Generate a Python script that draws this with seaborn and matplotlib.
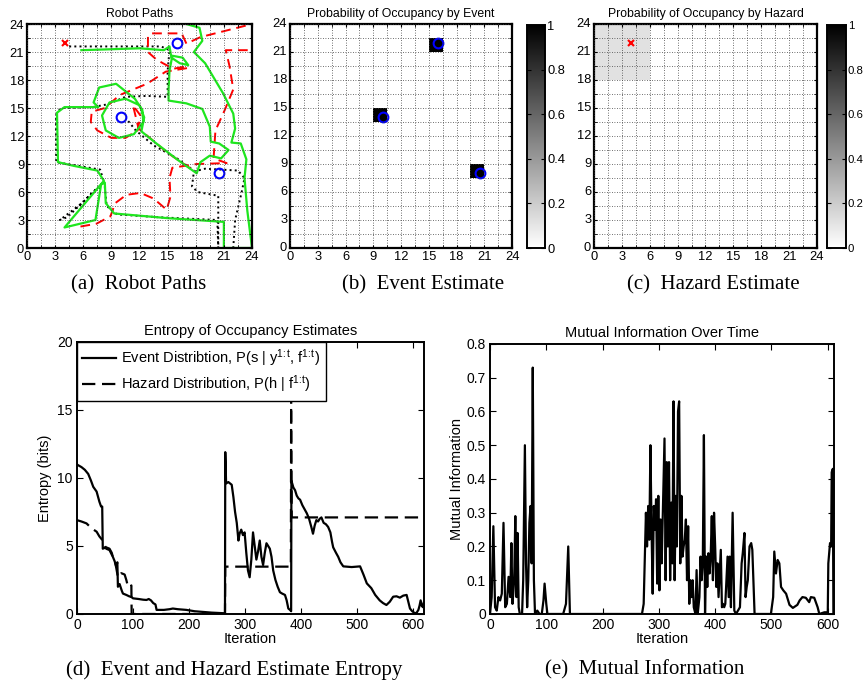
#Import Libraries
import numpy as np
import pandas as pd
import seaborn as sb
import matplotlib
matplotlib.use("Agg")
import matplotlib.pyplot as plt

#Fonts and tick style (MATLAB look)
plt.rcParams["font.family"] = ["Liberation Sans", "DejaVu Sans"]
plt.rcParams["mathtext.default"] = "regular"
plt.rcParams["xtick.direction"] = "in"
plt.rcParams["ytick.direction"] = "in"
plt.rcParams["xtick.top"] = True
plt.rcParams["ytick.right"] = True

#Targets (events) and hazard
event_x = [16, 10, 20.5]
event_y = [22, 14, 8]
hazard_x = [4]
hazard_y = [22]

#Occupancy grids (16 x 16 cells of 1.5 units)
event_cols = [10, 6, 13]
event_rows = [14, 9, 5]
event_prob = [1.0, 1.0, 1.0]
hazard_cols = [0, 1, 2, 3]
hazard_rows = [12, 13, 14, 15]
hazard_prob = 0.12

#Robot paths
black_x = [4.5, 9, 14.3, 15.2, 15.0, 15.0, 12.8, 10.5, 8.6, 7.0, 3.6, 3.1, 3.1, 5.5, 7.8, 8.2,
           5.6, 3.5, 4.3, 7.5, 8.3, 8.5, 9.6, 14.0, 20.3, 20.4, 20.4, 18.2, 17.6, 17.8, 19.0,
           22.5, 23.2, 22.9, 22.2, 22.0]
black_y = [21.6, 21.6, 21.6, 21.2, 19.0, 16.2, 16.3, 16.2, 15.4, 15.1, 15.0, 14.3, 9.2, 8.8, 8.4, 7.1,
           4.6, 3.0, 3.3, 6.4, 6.5, 4.5, 3.6, 3.3, 3.0, 0.0, 5.6, 6.0, 6.6, 8.2, 8.5,
           8.3, 7.5, 6.0, 3.0, 0.0]
black_diag_x = [10.8, 11.6, 13.5, 16.0, 17.8]
black_diag_y = [13.6, 12.6, 11.0, 9.6, 8.3]

red_x = [5.7, 7.4, 8.9, 9.4, 10.6, 12.1, 13.5, 14.9, 15.3, 15.2, 15.5, 18.1, 21.3, 19.9, 20.1,
         21.1, 22.0, 21.6, 21.2, 24.0, 24.0, 18.5, 17.0, 16.5, 13.3, 12.9, 12.9, 13.8, 14.5,
         15.6, 16.6, 17.2, 14.8, 12.8, 9.9, 8.3, 6.9, 6.8, 7.5, 9.0, 10.5, 11.8, 12.1, 11.3,
         11.9, 15.0, 17.9]
red_y = [2.3, 2.6, 3.4, 4.8, 5.7, 5.9, 5.3, 4.1, 5.5, 7.5, 8.6, 9.0, 9.1, 9.6, 12.6,
         14.8, 17.0, 19.5, 21.2, 21.2, 24.0, 22.6, 21.9, 23.0, 23.0, 22.7, 21.0, 20.2, 19.8,
         19.2, 19.4, 19.3, 18.9, 17.6, 16.4, 15.0, 14.6, 13.5, 12.6, 11.8, 11.8, 12.6, 14.2, 15.3,
         12.8, 10.2, 8.2]

green_x = [5.8, 9, 12, 14.6, 15.2, 15.4, 16.3, 17.2, 16.6, 15.5, 15.2, 15.1, 15.1, 17.0, 18.7,
           19.5, 19.6, 20.5, 21.5, 20.7, 19.5, 18.5, 18.1, 16.0, 13.8, 12.2, 12.5, 12.0, 10.5,
           8.8, 8.0, 8.4, 9.8, 11.4, 12.4, 12.3, 11.5, 9.5, 7.7, 7.1, 7.6, 4.0, 3.2, 3.3, 5.0,
           7.5, 8.2, 4.0, 7.3, 7.9, 8.3, 8.4, 9.3, 15.0, 21.0, 21.0, 24.0, 23.5, 23.2, 23.4,
           22.8, 21.8, 22.2, 22.0, 20.9, 19.0, 17.8, 18.7, 18.4, 17.0]
green_y = [21.2, 21.3, 21.4, 21.2, 21.6, 20.4, 19.8, 19.6, 20.4, 20.6, 19.0, 17.0, 15.8, 15.5, 14.9,
           13.0, 11.4, 11.2, 10.5, 9.6, 9.9, 9.2, 8.0, 9.5, 11.2, 12.5, 14.0, 15.3, 16.0,
           15.6, 14.2, 12.6, 11.8, 12.2, 13.5, 14.8, 16.0, 17.6, 17.2, 15.6, 15.1, 15.1, 14.5, 9.2, 8.8,
           8.3, 7.2, 2.2, 3.0, 6.8, 7.0, 4.8, 3.7, 3.2, 2.8, 0.0, 0.0, 4.0, 7.5, 9.5,
           11.2, 11.3, 12.8, 14.4, 16.6, 19.8, 21.0, 22.2, 23.6, 24.0]

#Entropy of occupancy estimates
event_iter = [0, 2, 8, 14, 20, 25, 29, 35, 40, 43, 45, 46, 52, 58, 62, 64, 67, 70, 72, 73,
              76, 80, 82, 88, 93, 97, 100, 110, 118, 124, 128, 132, 136, 140, 142, 155, 165, 171, 180, 195,
              210, 219, 240, 261, 264, 264.5, 266, 270, 276, 279, 282, 285, 288, 290, 293, 296, 299, 302, 305, 308,
              311, 314, 317, 320, 323, 326, 329, 332, 335, 338, 341, 344, 347, 350, 354, 358, 362, 366, 371, 374,
              377, 380, 382, 382.5, 386, 389, 392, 395, 398, 402, 406, 410, 414, 418, 421, 424, 427, 430, 433, 436,
              440, 444, 448, 452, 455, 457, 462, 466, 470, 475, 490, 505, 511, 517, 525, 532, 540, 546, 552, 558,
              564, 570, 576, 582, 588, 591, 594, 598, 603, 606, 609, 611, 613, 615, 617, 619]
event_entropy = [11.0, 10.94, 10.8, 10.6, 10.3, 9.8, 9.35, 9.0, 8.25, 7.9, 7.9, 4.8, 4.9, 4.8, 4.5, 4.2, 3.9, 3.5, 3.8, 2.0,
                 2.2, 1.7, 1.5, 1.4, 1.3, 1.25, 1.15, 1.1, 1.05, 1.03, 1.1, 1.0, 0.8, 0.7, 0.3, 0.3, 0.35, 0.4, 0.35, 0.3,
                 0.2, 0.17, 0.1, 0.05, 0.05, 11.9, 9.6, 9.7, 9.5, 8.6, 7.5, 6.7, 5.4, 5.9, 6.2, 5.8, 6.0, 4.5, 3.2, 2.7,
                 4.0, 6.0, 5.0, 4.0, 4.6, 5.4, 4.2, 3.6, 4.5, 5.2, 5.0, 4.8, 4.2, 3.2, 2.5, 2.0, 1.6, 1.5, 1.4, 1.0,
                 0.4, 0.3, 0.2, 9.8, 9.3, 9.1, 8.7, 8.5, 8.4, 8.0, 7.7, 7.4, 7.0, 6.4, 5.9, 6.5, 6.9, 6.8, 7.0, 7.1,
                 6.7, 6.6, 6.4, 6.0, 5.3, 4.9, 4.5, 4.2, 3.8, 3.5, 3.45, 3.5, 2.9, 2.25, 1.9, 1.4, 1.0, 0.8, 0.66, 0.9,
                 1.27, 1.3, 1.2, 1.35, 1.4, 0.9, 0.4, 0.2, 0.05, 0.1, 0.3, 0.6, 1.0, 0.6, 0.5, 0.9]
hazard_iter = [0, 8, 17, 26, 35, 40, 46, 52, 58, 64, 68, 70, 73, 76, 79, 85, 88, 91, 95, 97,
               97.5, 264, 264.5, 381.5, 382, 383, 619]
hazard_entropy = [6.9, 6.8, 6.66, 6.3, 6.05, 5.7, 5.4, 4.8, 4.7, 4.2, 3.8, 3.4, 2.7, 2.8, 3.0, 2.9, 2.5, 2.0, 2.0, 2.1,
                  0.0, 0.0, 3.48, 3.48, 16.0, 7.1, 7.1]

#Mutual information over time
mi_iter = [0, 3, 6, 9, 12, 15, 18, 21, 24, 27, 30, 33, 36, 38, 40, 43, 45, 47, 49, 51,
           53, 57, 59, 62, 64, 66, 68, 70, 72, 74, 76, 78, 80, 84, 88, 92, 95, 97, 100, 102,
           130, 135, 139, 142, 270, 273, 277, 279, 281, 283, 285, 287, 289, 291, 293, 295, 297, 299, 301, 303,
           305, 307, 310, 312, 314, 316, 318, 320, 322, 324, 326, 328, 330, 332, 334, 336, 338, 340, 342, 344,
           346, 348, 350, 352, 354, 356, 358, 360, 362, 365, 367, 369, 372, 374, 376, 378, 380, 382, 384, 386,
           388, 390, 392, 394, 396, 398, 400, 402, 404, 406, 408, 410, 412, 414, 416, 418, 420, 422, 424, 426,
           428, 431, 434, 437, 444, 447, 449, 452, 454, 456, 458, 461, 464, 466, 470, 499, 503, 505, 508, 511,
           514, 517, 521, 526, 532, 538, 546, 550, 555, 561, 567, 570, 576, 582, 585, 594, 600, 601, 604, 606,
           607, 609, 610]
mi_value = [0.0, 0.05, 0.26, 0.02, 0.01, 0.05, 0.04, 0.06, 0.27, 0.02, 0.03, 0.11, 0.05, 0.21, 0.03, 0.1, 0.29, 0.05, 0.24, 0.02,
            0.0, 0.0, 0.1, 0.5, 0.15, 0.02, 0.1, 0.27, 0.32, 0.15, 0.73, 0.1, 0.0, 0.01, 0.0, 0.0, 0.04, 0.09, 0.03, 0.0,
            0.0, 0.03, 0.2, 0.0, 0.0, 0.03, 0.3, 0.2, 0.32, 0.22, 0.5, 0.25, 0.06, 0.32, 0.25, 0.34, 0.09, 0.35, 0.07, 0.28,
            0.15, 0.3, 0.52, 0.1, 0.45, 0.2, 0.45, 0.1, 0.33, 0.15, 0.63, 0.1, 0.35, 0.2, 0.6, 0.63, 0.15, 0.35, 0.17, 0.2,
            0.22, 0.28, 0.1, 0.26, 0.03, 0.1, 0.05, 0.1, 0.02, 0.0, 0.13, 0.0, 0.05, 0.17, 0.1, 0.15, 0.53, 0.0, 0.17, 0.08,
            0.18, 0.12, 0.17, 0.29, 0.1, 0.3, 0.2, 0.08, 0.15, 0.05, 0.12, 0.19, 0.02, 0.03, 0.02, 0.03, 0.1, 0.17, 0.05, 0.17,
            0.02, 0.3, 0.01, 0.0, 0.02, 0.15, 0.18, 0.24, 0.05, 0.08, 0.1, 0.2, 0.21, 0.19, 0.0, 0.0, 0.05, 0.185, 0.12, 0.16,
            0.15, 0.08, 0.07, 0.06, 0.027, 0.018, 0.027, 0.04, 0.05, 0.048, 0.035, 0.05, 0.048, 0.02, 0.0, 0.005, 0.005, 0.15, 0.21, 0.2,
            0.42, 0.43, 0.0]

#Build the grids
event_grid = np.zeros((16, 16))
for c, r, p in zip(event_cols, event_rows, event_prob):
    event_grid[r, c] = p
hazard_grid = np.zeros((16, 16))
for r in hazard_rows:
    for c in hazard_cols:
        hazard_grid[r, c] = hazard_prob

grid_labels = [str(v) for v in range(0, 25, 3)]


def style_grid_axes(ax, scale):
    major = np.arange(0, 25, 3) / scale
    minor = np.arange(1.5, 24, 3) / scale
    ax.set_xticks(major)
    ax.set_xticklabels(grid_labels, rotation=0)
    ax.set_yticks(major)
    ax.set_yticklabels(grid_labels, rotation=0)
    ax.set_xticks(minor, minor=True)
    ax.set_yticks(minor, minor=True)
    ax.set_xlim(0, 24 / scale)
    ax.set_ylim(0, 24 / scale)
    ax.set_axisbelow(False)
    ax.grid(True, which="both", linestyle=(0, (1, 2)), color="0.25", linewidth=0.6)
    ax.tick_params(which="both", direction="in", top=True, right=True, bottom=True, left=True,
                   labelsize=9.3, pad=2, color="k", length=2.5)
    for s in ax.spines.values():
        s.set_visible(True)
        s.set_linewidth(1.6)
        s.set_color("k")
    ax.set_xlabel("")
    ax.set_ylabel("")


#Figure
fig = plt.figure(figsize=(8.66, 6.87), dpi=100)
ax_a = fig.add_axes([0.0312, 0.639, 0.2598, 0.326])
ax_b = fig.add_axes([0.3349, 0.639, 0.2564, 0.326])
cax_b = fig.add_axes([0.6085, 0.639, 0.0208, 0.3246])
ax_c = fig.add_axes([0.6859, 0.639, 0.2575, 0.326])
cax_c = fig.add_axes([0.9545, 0.639, 0.0219, 0.3246])
ax_d = fig.add_axes([0.0889, 0.1063, 0.4007, 0.3959])
ax_e = fig.add_axes([0.5658, 0.1063, 0.3972, 0.393])

#(a) Robot Paths
sb.lineplot(x=black_x, y=black_y, sort=False, estimator=None, color="k", linestyle=":", linewidth=1.4, ax=ax_a)
sb.lineplot(x=black_diag_x, y=black_diag_y, sort=False, estimator=None, color="k", linestyle=":", linewidth=1.4, ax=ax_a)
sb.lineplot(x=red_x, y=red_y, sort=False, estimator=None, color="red", linestyle=(0, (5, 3)), linewidth=1.4, ax=ax_a)
sb.lineplot(x=green_x, y=green_y, sort=False, estimator=None, color="#1ee61e", linewidth=1.6, ax=ax_a)
ax_a.plot(event_x, event_y, "o", mfc="none", mec="blue", ms=7, mew=1.5)
ax_a.plot(hazard_x, hazard_y, "x", color="red", ms=5, mew=1.5)
style_grid_axes(ax_a, 1.0)
ax_a.set_title("Robot Paths", fontsize=8.8, pad=5)

#(b) Event Estimate
sb.heatmap(event_grid, cmap="gray_r", vmin=0, vmax=1, ax=ax_b, cbar_ax=cax_b)
ax_b.plot(np.array(event_x) / 1.5, np.array(event_y) / 1.5, "o", mfc="none", mec="blue", ms=7, mew=1.5)
style_grid_axes(ax_b, 1.5)
ax_b.set_title("Probability of Occupancy by Event", fontsize=8.8, pad=5)

#(c) Hazard Estimate
sb.heatmap(hazard_grid, cmap="gray_r", vmin=0, vmax=1, ax=ax_c, cbar_ax=cax_c)
ax_c.plot(np.array(hazard_x) / 1.5, np.array(hazard_y) / 1.5, "x", color="red", ms=5, mew=1.5)
style_grid_axes(ax_c, 1.5)
ax_c.set_title("Probability of Occupancy by Hazard", fontsize=8.8, pad=5)

for cax, lsize in [(cax_b, 9.3), (cax_c, 8.2)]:
    cax.set_yticks([0, 0.2, 0.4, 0.6, 0.8, 1])
    cax.set_yticklabels(["0", "0.2", "0.4", "0.6", "0.8", "1"])
    cax.tick_params(labelsize=lsize, direction="in", length=3, left=True, right=True, pad=1.5, color="k")
    for s in cax.spines.values():
        s.set_visible(True)
        s.set_linewidth(1.2)
        s.set_color("k")
for hm_ax in [ax_b, ax_c]:
    hm_ax.collections[0].colorbar.outline.set_linewidth(1.2)
    hm_ax.collections[0].colorbar.outline.set_edgecolor("k")

#(d) Entropy
sb.lineplot(x=event_iter, y=event_entropy, sort=False, estimator=None, color="k", linewidth=1.6, ax=ax_d,
            label=r"Event Distribtion, P(s | y$^{1\!:\!t}$, f$^{1\!:\!t}$)")
sb.lineplot(x=hazard_iter, y=hazard_entropy, sort=False, estimator=None, color="k", linewidth=1.6,
            linestyle=(0, (6, 3)), ax=ax_d, label=r"Hazard Distribution, P(h | f$^{1\!:\!t}$)")
ax_d.set_xlim(0, 619)
ax_d.set_ylim(0, 20)
ax_d.set_xticks([0, 100, 200, 300, 400, 500, 600])
ax_d.set_yticks([0, 5, 10, 15, 20])
ax_d.set_title("Entropy of Occupancy Estimates", fontsize=10.5, pad=5)
ax_d.set_xlabel("Iteration", fontsize=10.5, labelpad=0)
ax_d.set_ylabel("Entropy (bits)", fontsize=10.5, labelpad=4)
leg = ax_d.legend(loc="upper left", borderaxespad=0, fontsize=10.5, fancybox=False, edgecolor="k",
                  framealpha=1, handlelength=2.3, handletextpad=0.4, borderpad=0.35, labelspacing=0.35)
leg.get_frame().set_linewidth(1.0)

#(e) Mutual information
sb.lineplot(x=mi_iter, y=mi_value, sort=False, estimator=None, color="k", linewidth=1.6, ax=ax_e)
ax_e.set_xlim(0, 611)
ax_e.set_ylim(0, 0.8)
ax_e.set_xticks([0, 100, 200, 300, 400, 500, 600])
ax_e.set_yticks([0, 0.1, 0.2, 0.3, 0.4, 0.5, 0.6, 0.7, 0.8])
ax_e.set_yticklabels(["0", "0.1", "0.2", "0.3", "0.4", "0.5", "0.6", "0.7", "0.8"])
ax_e.set_title("Mutual Information Over Time", fontsize=10.5, pad=5)
ax_e.set_xlabel("Iteration", fontsize=10.5, labelpad=0)
ax_e.set_ylabel("Mutual Information", fontsize=10.5, labelpad=2)

for ax in [ax_d, ax_e]:
    ax.tick_params(labelsize=10, direction="in", top=True, right=True, length=4, pad=3, color="k")
    for s in ax.spines.values():
        s.set_linewidth(1.4)
        s.set_color("k")

#Captions
cap = dict(family=["Liberation Serif", "DejaVu Serif"], fontsize=15, ha="center", va="center")
fig.text(139 / 866, 1 - 285 / 687, "(a)  Robot Paths", **cap)
fig.text(423 / 866, 1 - 285 / 687, "(b)  Event Estimate", **cap)
fig.text(713 / 866, 1 - 285 / 687, "(c)  Hazard Estimate", **cap)
fig.text(234 / 866, 1 - 670 / 687, "(d)  Event and Hazard Estimate Entropy", **cap)
fig.text(645 / 866, 1 - 670 / 687, "(e)  Mutual Information", **cap)

fig.savefig("out.png", dpi=100)
